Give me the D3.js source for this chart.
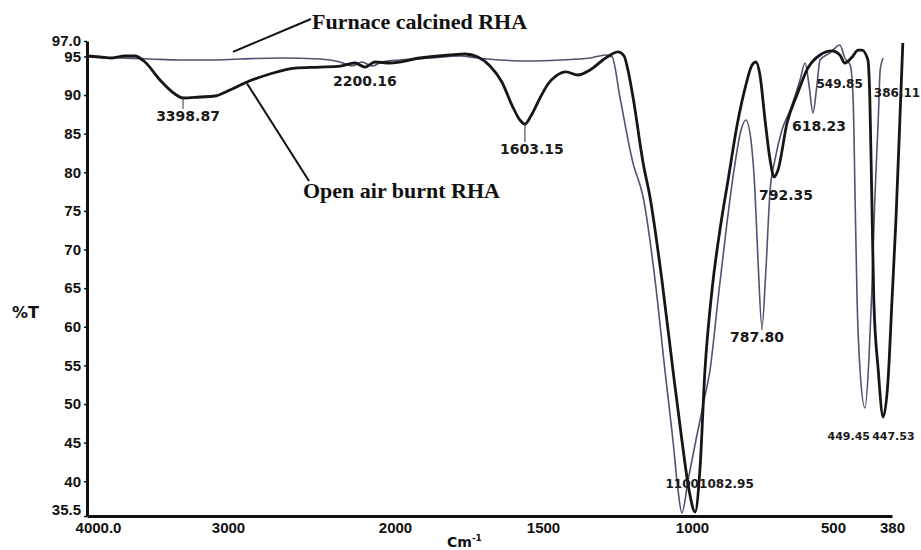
<!DOCTYPE html>
<html>
<head>
<meta charset="utf-8">
<script src="https://cdn.jsdelivr.net/npm/d3@7"></script>
<style>
  body { margin: 0; background: #fff; }
  svg { display: block; font-family: "DejaVu Sans", sans-serif; }
</style>
</head>
<body>
<div id="chart"></div>
<script>
// Wavenumber (cm-1) and %T for both spectra
const openWn = [4000, 3908, 3823, 3730, 3660, 3589, 3482, 3376, 3319, 3199,
  3092, 2988, 2886, 2749, 2599, 2449, 2329, 2240, 2180, 2120,
  2030, 1916, 1814, 1764, 1720, 1679, 1639, 1605, 1578, 1561,
  1541, 1510, 1483, 1456, 1423, 1383, 1342, 1299, 1268, 1248,
  1228, 1215, 1198, 1164, 1141, 1101, 1064, 1034, 1010, 989,
  972, 954, 929, 901, 872, 840, 809, 787, 773, 759,
  741, 723, 709, 695, 663, 628, 589, 546, 504, 486,
  476, 461, 449, 441, 429, 425, 421, 417, 408, 398,
  388, 380, 372, 364, 358];
const openT = [95.06, 94.93, 94.80, 95.06, 95.06, 94.28, 91.95, 90.14, 89.62, 89.75,
  89.88, 90.66, 91.69, 92.73, 93.50, 93.63, 93.76, 94.15, 93.63, 94.28,
  94.15, 94.80, 95.19, 95.32, 94.93, 93.76, 91.69, 88.71, 86.77, 86.25,
  87.29, 89.62, 91.43, 92.47, 92.99, 92.60, 93.25, 94.54, 95.32, 95.58,
  95.06, 93.25, 89.75, 81.21, 76.80, 66.06, 54.41, 45.34, 38.87, 36.02,
  41.46, 54.41, 64.76, 72.53, 79.00, 86.12, 91.30, 93.89, 94.28, 92.60,
  86.77, 81.59, 79.39, 80.30, 86.38, 90.01, 93.50, 95.19, 95.71, 95.19,
  94.15, 94.93, 95.83, 95.83, 94.54, 89.36, 76.41, 63.47, 54.41, 48.32,
  53.11, 63.47, 73.83, 86.77, 96.74];

const furnWn = [4000, 3766, 3553, 3340, 3128, 2928, 2689, 2449, 2329, 2257,
  2198, 2138, 2078, 1983, 1882, 1780, 1720, 1645, 1544, 1443,
  1342, 1289, 1268, 1242, 1198, 1164, 1124, 1091, 1064, 1047,
  1034, 1013, 986, 957, 936, 908, 879, 851, 826, 809,
  791, 777, 766, 752, 738, 723, 706, 681, 652, 617,
  599, 585, 571, 557, 546, 511, 486, 476, 465, 459,
  455, 451, 445, 435, 427, 421, 415, 408, 404, 398];
const furnT = [94.93, 94.80, 94.67, 94.54, 94.54, 94.67, 94.80, 94.67, 94.28, 93.76,
  94.28, 93.76, 94.28, 94.54, 94.80, 95.06, 94.80, 94.54, 94.41, 94.54,
  94.80, 95.19, 94.93, 89.75, 81.21, 76.80, 66.06, 54.41, 45.34, 38.87,
  35.89, 40.16, 45.34, 50.52, 54.41, 63.47, 72.53, 80.30, 85.48, 86.77,
  84.18, 77.71, 68.65, 59.97, 67.35, 77.71, 81.59, 85.48, 88.07, 91.95,
  94.15, 91.30, 87.68, 91.30, 94.54, 95.45, 96.48, 94.80, 93.89, 89.36,
  76.41, 63.47, 54.41, 49.49, 55.70, 64.76, 76.41, 86.77, 93.25, 94.80];

const seriesNames = ["Furnace calcined RHA", "Open air burnt RHA"];

// Axis ticks
const xTicks = [4000, 3000, 2000, 1500, 1000, 500, 380];
const yTicks = [97, 95, 90, 85, 80, 75, 70, 65, 60, 55, 50, 45, 40, 35.5];

// Peak annotations: label text and the point of the spectrum it marks
const peakText = ["3398.87", "2200.16", "1603.15", "792.35", "787.80", "618.23",
  "549.85", "386.11", "1100", "1082.95", "449.45", "447.53"];
const peakWn = [3319, 2180, 1561, 709, 752, 571, 476, 398, 1034, 989, 435, 398];
const peakT = [89.62, 93.63, 86.25, 79.39, 59.97, 87.68, 94.15, 94.80, 35.89, 36.02, 49.49, 48.32];

// ---- layout ----
const width = 921, height = 550;

const svg = d3.select("#chart")
  .append("svg")
  .attr("width", width)
  .attr("height", height);

// the original axis is not uniform (4000-2000 compressed), so use a piecewise scale
const x = d3.scaleLinear()
  .domain(xTicks)
  .range([87, 228, 395, 543, 692, 833, 892]);

const y = d3.scaleLinear()
  .domain([35.5, 97])
  .range([516, 41]);

// Y axis
const yAxis = svg.append("g")
  .attr("transform", "translate(87,0)")
  .call(d3.axisLeft(y)
    .tickValues(yTicks)
    .tickSize(3)
    .tickSizeOuter(0)
    .tickPadding(3)
    .tickFormat(d => d === 97 ? "97.0" : d === 35.5 ? "35.5" : d));
yAxis.select(".domain").attr("stroke", "#111").attr("stroke-width", 3);
yAxis.selectAll(".tick line").attr("stroke", "#111").attr("stroke-width", 1.5);
yAxis.selectAll("text")
  .attr("fill", "#111")
  .style("font-size", "15px")
  .style("font-weight", "bold");
yAxis.selectAll(".tick")
  .filter(d => d === 35.5)
  .select("text").attr("dy", "-0.1em");

// X axis
const xAxis = svg.append("g")
  .attr("transform", "translate(0,516)")
  .call(d3.axisBottom(x)
    .tickValues(xTicks)
    .tickSize(0)
    .tickPadding(6)
    .tickFormat(d => d === 4000 ? "4000.0" : d));
xAxis.select(".domain").attr("stroke", "#111").attr("stroke-width", 3);
xAxis.selectAll("text")
  .attr("fill", "#111")
  .style("font-size", "15px")
  .style("font-weight", "bold");
xAxis.selectAll(".tick")
  .filter(d => d === 4000)
  .select("text").attr("x", 11);

// axis titles
svg.append("text")
  .attr("x", 12)
  .attr("y", 318)
  .style("font-size", "16px")
  .style("font-weight", "bold")
  .attr("fill", "#111")
  .text("%T");

const xTitle = svg.append("text")
  .attr("x", 447)
  .attr("y", 547)
  .style("font-weight", "bold")
  .attr("fill", "#111");
xTitle.append("tspan").style("font-size", "14px").text("Cm");
xTitle.append("tspan").style("font-size", "9px").attr("dy", -6).text("-1");

// spectra
const line = d3.line()
  .x(d => x(d[0]))
  .y(d => y(d[1]))
  .curve(d3.curveMonotoneX);

svg.append("path")
  .datum(d3.zip(furnWn, furnT))
  .attr("fill", "none")
  .attr("stroke", "#4f5470")
  .attr("stroke-width", 1.6)
  .attr("d", line);

svg.append("path")
  .datum(d3.zip(openWn, openT))
  .attr("fill", "none")
  .attr("stroke", "#161616")
  .attr("stroke-width", 2.8)
  .attr("stroke-linejoin", "round")
  .attr("d", line);

// peak labels: [dx, dy to baseline, anchor, leader line, font size]
const labelOffsets = [
  [5, 23, "middle", true, 14], [0, 19, "middle", false, 14], [7, 30, "middle", true, 14],
  [12, 23, "middle", false, 14], [-5, 15, "middle", true, 14], [6, 18, "middle", false, 14],
  [18, 25, "end", false, 12], [37, 39, "end", false, 12], [17, -25, "end", false, 12],
  [4, -24, "start", false, 12], [5, 32, "end", false, 11], [-11, 23, "start", false, 11]
];

peakText.forEach(function(t, i) {
  const px = x(peakWn[i]), py = y(peakT[i]);
  const o = labelOffsets[i];
  if (o[3]) {
    svg.append("line")
      .attr("x1", px).attr("x2", px)
      .attr("y1", py).attr("y2", py + o[1] - 12)
      .attr("stroke", "#333")
      .attr("stroke-width", 1);
  }
  svg.append("text")
    .attr("x", px + o[0])
    .attr("y", py + o[1])
    .attr("text-anchor", o[2])
    .style("font-size", o[4] + "px")
    .style("font-weight", "bold")
    .attr("fill", "#1a1a1a")
    .text(t);
});

// series name callouts
svg.append("line")
  .attr("x1", x(2970)).attr("y1", y(95.6))
  .attr("x2", 311).attr("y2", 19)
  .attr("stroke", "#111").attr("stroke-width", 2);
svg.append("text")
  .attr("x", 312)
  .attr("y", 29)
  .style("font-family", "'Liberation Serif', serif")
  .style("font-size", "22px")
  .style("font-weight", "bold")
  .attr("fill", "#111")
  .text(seriesNames[0]);

svg.append("line")
  .attr("x1", x(2886)).attr("y1", y(91.5))
  .attr("x2", 309).attr("y2", 181)
  .attr("stroke", "#111").attr("stroke-width", 2);
svg.append("text")
  .attr("x", 303)
  .attr("y", 198)
  .style("font-family", "'Liberation Serif', serif")
  .style("font-size", "22px")
  .style("font-weight", "bold")
  .attr("fill", "#111")
  .text(seriesNames[1]);
</script>
</body>
</html>
